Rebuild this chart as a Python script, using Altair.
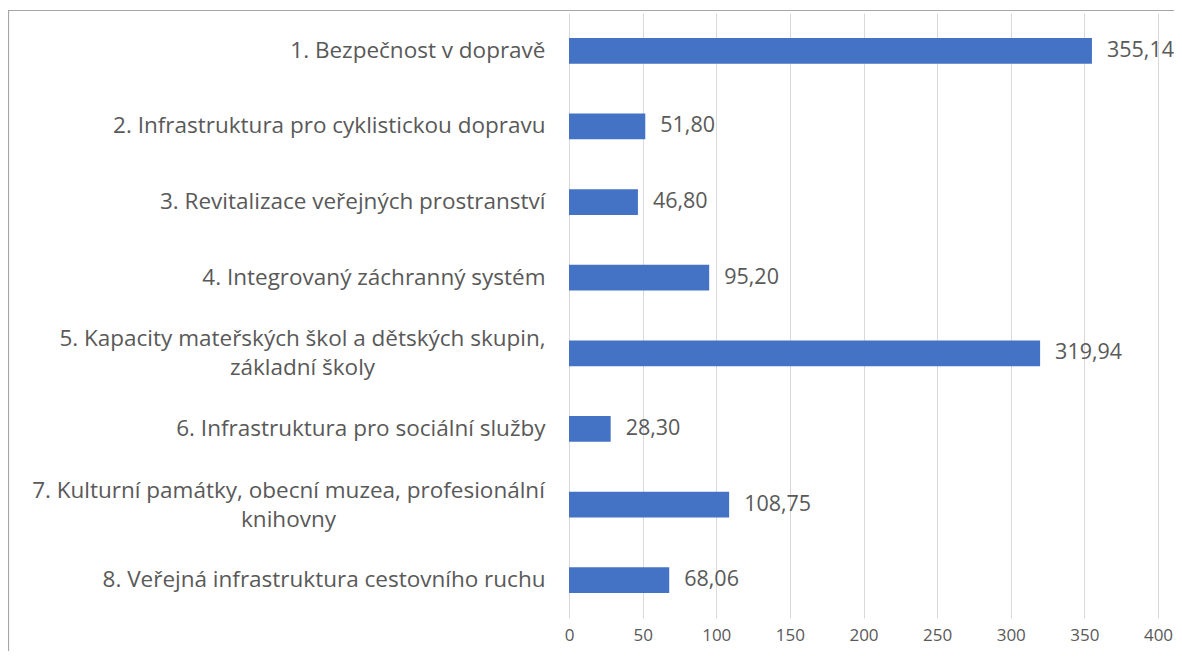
import altair as alt
import pandas as pd

categories = [
    "1. Bezpečnost v dopravě",
    "2. Infrastruktura pro cyklistickou dopravu",
    "3. Revitalizace veřejných prostranství",
    "4. Integrovaný záchranný systém",
    "5. Kapacity mateřských škol a dětských skupin,|základní školy",
    "6. Infrastruktura pro sociální služby",
    "7. Kulturní památky, obecní muzea, profesionální|knihovny",
    "8. Veřejná infrastruktura cestovního ruchu",
]
values = [355.14, 51.80, 46.80, 95.20, 319.94, 28.30, 108.75, 68.06]
x_ticks = [0, 50, 100, 150, 200, 250, 300, 350, 400]

df = pd.DataFrame({"cat": categories, "val": values})

FONT = "Open Sans"
W, H = 589, 605

base = alt.Chart(df).transform_calculate(
    lbl="replace(format(datum.val, '.2f'), '.', ',')"
)

multi = "indexof(datum.value, '|') >= 0"

y_enc = alt.Y(
    "cat:N",
    sort=categories,
    title=None,
    scale=alt.Scale(paddingInner=0.66, paddingOuter=0.33),
    axis=alt.Axis(
        domain=False,
        ticks=False,
        grid=False,
        labelFont=FONT,
        labelFontSize=22.5,
        labelColor="#595959",
        labelLimit=700,
        labelLineHeight=29,
        labelExpr="split(datum.label, '|')",
        labelAlign={"condition": {"test": multi, "value": "center"}, "value": "right"},
        labelOffset={"condition": {"test": multi, "value": -14}, "value": 0},
        labelPadding={
            "condition": [
                {"test": "indexof(datum.value, '5.') == 0", "value": 24 + 243},
                {"test": "indexof(datum.value, '7.') == 0", "value": 24 + 257},
            ],
            "value": 24,
        },
    ),
)

x_enc = alt.X(
    "val:Q",
    title=None,
    scale=alt.Scale(domain=[0, 400], nice=False),
    axis=alt.Axis(
        values=x_ticks,
        domain=False,
        ticks=False,
        grid=True,
        gridColor="#d9d9d9",
        labelFont=FONT,
        labelFontSize=17,
        labelColor="#595959",
        labelPadding=9,
        labelFlush=False,
    ),
)

bars = base.mark_bar(color="#4472C4").encode(x=x_enc, y=y_enc)

text = base.mark_text(
    align="left", baseline="middle", dx=15, font=FONT, fontSize=21.5, color="#595959"
).encode(x="val:Q", y=alt.Y("cat:N", sort=categories), text="lbl:N")

frame = alt.Chart(alt.Data(values=[{}]))
left_line = frame.mark_rule(color="#a6a6a6", strokeWidth=1.2).encode(
    x=alt.value(-560.5), y=alt.value(-2), y2=alt.value(H + 40)
)
top_line = frame.mark_rule(color="#a6a6a6", strokeWidth=1.2).encode(
    x=alt.value(-561), x2=alt.value(W + 16), y=alt.value(-2.5)
)

chart = alt.layer(bars, text, left_line, top_line).properties(
    width=W,
    height=H,
    autosize=alt.AutoSizeParams(type="none"),
    padding={"left": 561, "top": 5, "right": 16, "bottom": 33},
).configure_view(stroke=None)

chart.save("out.html", embed_options={"renderer": "svg", "actions": False})
